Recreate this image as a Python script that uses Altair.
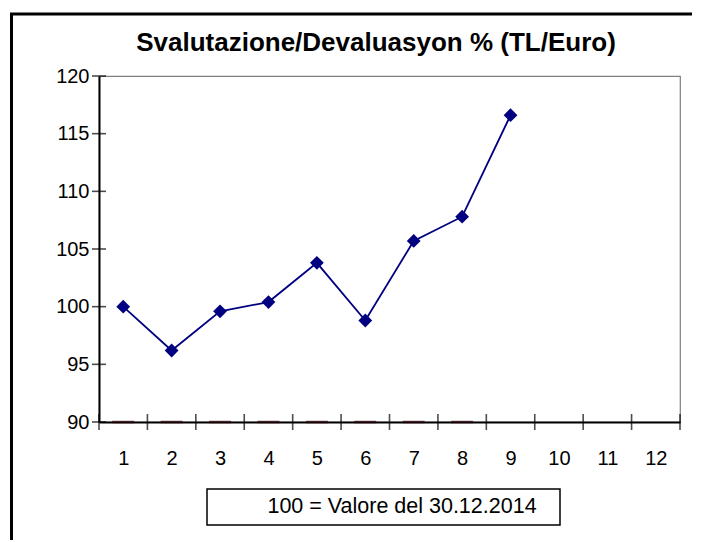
import altair as alt
import pandas as pd

months = [1, 2, 3, 4, 5, 6, 7, 8, 9]
values = [100.0, 96.2, 99.6, 100.4, 103.8, 98.8, 105.7, 107.8, 116.6]
base_months = [1, 2, 3, 4, 5, 6, 7, 8]
base_values = [90, 90, 90, 90, 90, 90, 90, 90]
x_labels = [1, 2, 3, 4, 5, 6, 7, 8, 9, 10, 11, 12]
y_ticks = [90, 95, 100, 105, 110, 115, 120]
x_bounds = [0.5, 1.5, 2.5, 3.5, 4.5, 5.5, 6.5, 7.5, 8.5, 9.5, 10.5, 11.5, 12.5]
title_text = "Svalutazione/Devaluasyon % (TL/Euro)"
note_text = "100 = Valore del 30.12.2014"

W, H = 581, 346
FONT = "Liberation Sans"
NAVY = "#000080"

df = pd.DataFrame({"month": months, "value": values})
df_base = pd.DataFrame({"month": base_months, "value": base_values})
df_y = pd.DataFrame({"value": y_ticks})
df_x = pd.DataFrame({"month": x_bounds})
one = pd.DataFrame({"a": [0]})

x_enc = alt.X("month:Q", scale=alt.Scale(domain=[0.5, 12.5], nice=False, zero=False),
              axis=alt.Axis(values=x_labels, title=None, grid=False, ticks=False,
                            domainColor="black", domainWidth=2, labelFontSize=20,
                            labelFont=FONT, labelColor="black", labelPadding=26,
                            labelFlush=False))
y_enc = alt.Y("value:Q", scale=alt.Scale(domain=[90, 120], nice=False, zero=False),
              axis=alt.Axis(values=y_ticks, title=None, grid=False, ticks=False,
                            domainColor="black", domainWidth=2, labelFontSize=20,
                            labelFont=FONT, labelColor="black", labelPadding=10,
                            labelFlush=False))

border = alt.Chart(one).mark_rect(fill="transparent", stroke="black", strokeWidth=3, clip=False).encode(
    x=alt.value(-87.5), x2=alt.value(760), y=alt.value(-62), y2=alt.value(600))

base = alt.Chart(df_base).mark_tick(orient="horizontal", size=22, thickness=2.5, color="#2a0008").encode(
    x=x_enc, y=y_enc)

line = alt.Chart(df).mark_line(color=NAVY, strokeWidth=1.8).encode(x=x_enc, y=y_enc)
pts = alt.Chart(df).mark_point(shape="diamond", filled=True, color=NAVY, size=190, opacity=1).encode(x=x_enc, y=y_enc)

yt = alt.Chart(df_y).mark_tick(orient="horizontal", size=14, thickness=1.6, color="black").encode(
    y=y_enc, x=alt.value(0))
xt = alt.Chart(df_x).mark_tick(orient="vertical", size=16, thickness=1.6, color="black").encode(
    x=x_enc, y=alt.value(H))

title = alt.Chart(one).mark_text(text=title_text, font=FONT, fontSize=26, fontWeight="bold",
                                 color="black", align="center", baseline="middle").encode(
    x=alt.value(277), y=alt.value(-33))

box = alt.Chart(one).mark_rect(fill="white", stroke="black", strokeWidth=1.5, clip=False).encode(
    x=alt.value(108), x2=alt.value(461), y=alt.value(413), y2=alt.value(449))
note = alt.Chart(one).mark_text(text=note_text, font=FONT, fontSize=21.5, color="black",
                                align="center", baseline="middle").encode(
    x=alt.value(303), y=alt.value(431))

chart = alt.layer(border, xt, base, line, pts, yt, title, box, note).properties(
    width=W, height=H,
    autosize=alt.AutoSizeParams(type="none"),
    padding={"left": 91, "top": 68, "right": 12, "bottom": 118},
    background="white",
).configure_view(stroke="#808080", strokeWidth=1.2)

chart.save("out.html", embed_options={"renderer": "svg", "actions": False})
